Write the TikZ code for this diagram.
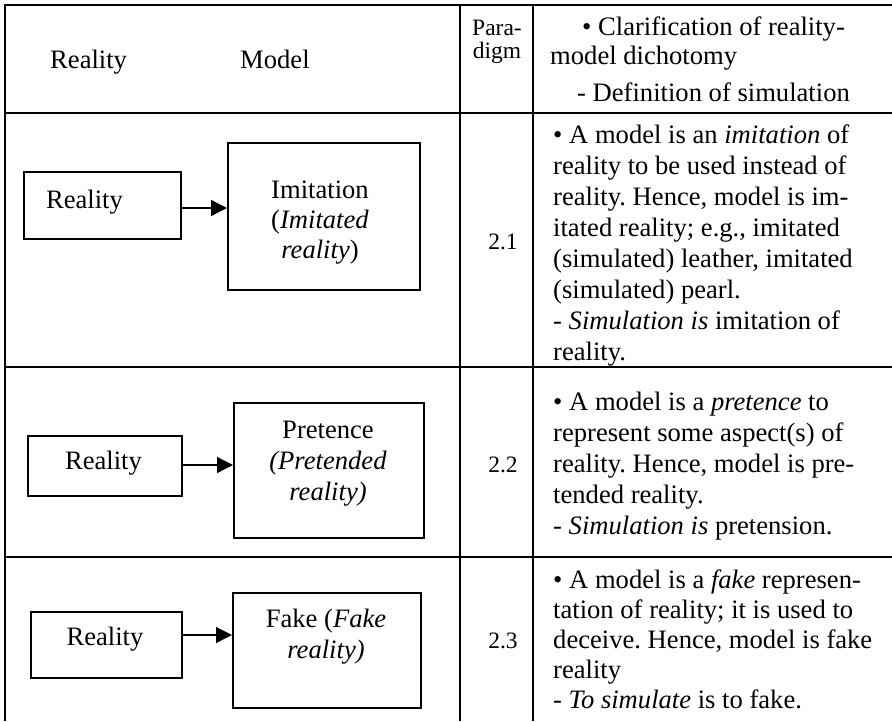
\documentclass[tikz,border=0pt]{standalone}
\usepackage{fontspec}
\setmainfont{Liberation Serif}
\usetikzlibrary{arrows.meta}
\frenchspacing
\begin{document}
\begin{tikzpicture}[x=1pt,y=-1pt,
  rule/.style={line width=2pt},
  box/.style={draw, line width=1.5pt, inner sep=0pt, anchor=north west},
  txt/.style={inner sep=0pt, font=\fontsize{26.6}{31}\selectfont\frenchspacing},
  ctr/.style={txt, anchor=base},
  lft/.style={txt, anchor=base west},
  num/.style={inner sep=0pt, font=\fontsize{23.5}{28}\selectfont, anchor=base},
  arr/.style={line width=1.3pt, -{Triangle[length=16pt,width=16pt]}}]
\useasboundingbox (0,0) rectangle (892,721);
% table rules
\draw[rule] (5,5) -- (892,5);
\draw[rule] (5,113) -- (892,113);
\draw[rule] (5,367) -- (892,367);
\draw[rule] (5,557) -- (892,557);
\draw[rule] (5,4) -- (5,721);
\draw[rule] (460,5) -- (460,721);
\draw[rule] (533,5) -- (533,721);
% header
\node[lft] (hreal) at (50,68) {Reality};
\node[lft] (hmod) at (240,68) {Model};
\node[num] (hpara) at (497,35) {Para-};
\node[num] (hdigm) at (497,58) {digm};
\node[lft] (hd1) at (582,35) {• Clarification of reality-};
\node[lft] (hd2) at (550,64) {model dichotomy};
\node[lft] (hd3) at (577,101) {- Definition of simulation};
% row 1
\node[box, minimum width=157pt, minimum height=67pt] (r1) at (23,171) {};
\node[box, minimum width=192pt, minimum height=147pt] (m1) at (227,142) {};
\node[ctr] (r1t) at (84.5,208) {Reality};
\node[ctr] (m1a) at (320,198) {Imitation};
\node[ctr] (m1b) at (320,228) {(\textit{Imitated}};
\node[ctr] (m1c) at (320,258) {\textit{reality})};
\draw[arr] (r1.east |- 0,208) -- (m1.west |- 0,208);
\node[num] (n1) at (503,249) {2.1};
\node[lft] (a1) at (553,143) {• A model is an \textit{imitation} of};
\node[lft] (a2) at (553,174) {reality to be used instead of};
\node[lft] (a3) at (553,205) {reality. Hence, model is im-};
\node[lft] (a4) at (553,236) {itated reality; e.g., imitated};
\node[lft] (a5) at (553,267) {(simulated) leather, imitated};
\node[lft] (a6) at (553,298) {(simulated) pearl.};
\node[lft] (a7) at (553,329) {- \textit{Simulation is} imitation of};
\node[lft] (a8) at (553,360) {reality.};
% row 2
\node[box, minimum width=154pt, minimum height=60pt] (r2) at (27,435) {};
\node[box, minimum width=190pt, minimum height=135pt] (m2) at (233,402) {};
\node[ctr] (r2t) at (103.5,469) {Reality};
\node[ctr] (m2a) at (328,438) {Pretence};
\node[ctr] (m2b) at (328,469) {\textit{(Pretended}};
\node[ctr] (m2c) at (328,500) {\textit{reality)}};
\draw[arr] (r2.east |- 0,465) -- (m2.west |- 0,465);
\node[num] (n2) at (503,472) {2.2};
\node[lft] (b1) at (553,410) {• A model is a \textit{pretence} to};
\node[lft] (b2) at (553,441) {represent some aspect(s) of};
\node[lft] (b3) at (553,472) {reality. Hence, model is pre-};
\node[lft] (b4) at (553,503) {tended reality.};
\node[lft] (b5) at (553,534) {- \textit{Simulation is} pretension.};
% row 3
\node[box, minimum width=151pt, minimum height=66pt] (r3) at (30,611) {};
\node[box, minimum width=188pt, minimum height=115pt] (m3) at (232,592) {};
\node[ctr] (r3t) at (105,645) {Reality};
\node[ctr] (m3a) at (326,627) {Fake (\textit{Fake}};
\node[ctr] (m3b) at (326,658) {\textit{reality)}};
\draw[arr] (r3.east |- 0,635) -- (m3.west |- 0,635);
\node[num] (n3) at (503,648) {2.3};
\node[lft] (c1) at (553,588) {• A model is a \textit{fake} represen-};
\node[lft] (c2) at (553,618) {tation of reality; it is used to};
\node[lft] (c3) at (553,648) {deceive. Hence, model is fake};
\node[lft] (c4) at (553,678) {reality};
\node[lft] (c5) at (553,708) {- \textit{To simulate} is to fake.};
\end{tikzpicture}
\end{document}
